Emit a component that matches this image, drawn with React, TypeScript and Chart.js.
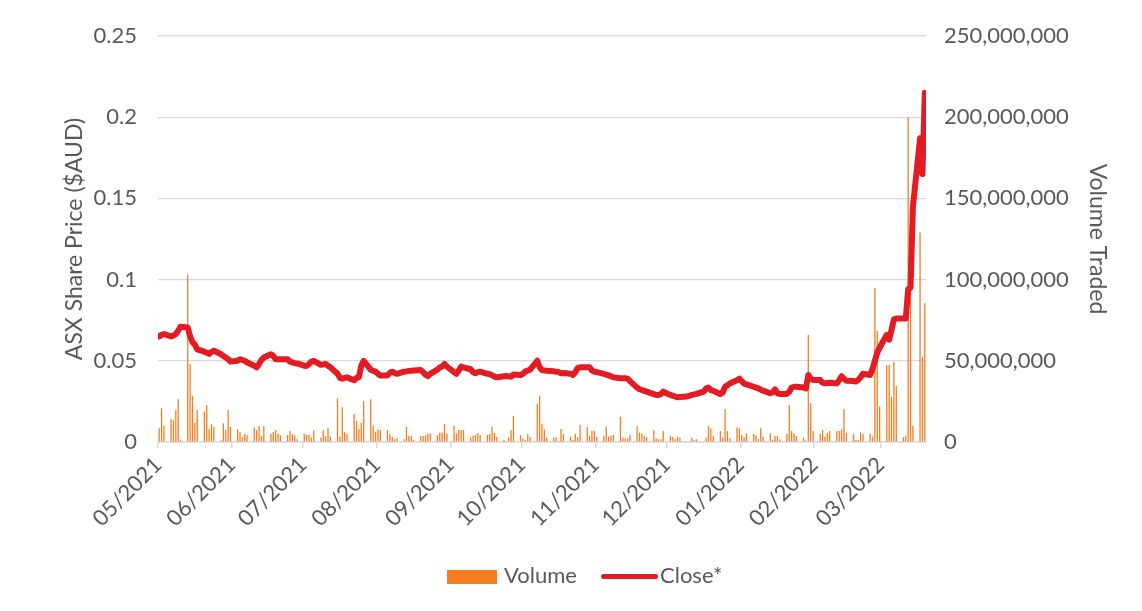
import React, { useEffect, useRef } from 'react';
import { Chart, registerables } from 'chart.js';

Chart.register(...registerables);

// ---- Categories: trading days (day of month) ----
const daysMay21 = [5, 6, 7, 10, 11, 12, 13, 14, 17, 18, 19, 20, 21, 24, 25, 26, 27, 28, 31];
const daysJun21 = [1, 2, 3, 4, 7, 8, 9, 10, 11, 14, 15, 16, 17, 18, 21, 22, 23, 24, 25, 28, 29, 30];
const daysJul21 = [1, 2, 5, 6, 7, 8, 9, 12, 13, 14, 15, 16, 19, 20, 21, 22, 23, 26, 27, 28, 29, 30];
const daysAug21 = [2, 3, 4, 5, 6, 9, 10, 11, 12, 13, 16, 17, 18, 19, 20, 23, 24, 25, 26, 27, 30, 31];
const daysSep21 = [1, 2, 3, 6, 7, 8, 9, 10, 13, 14, 15, 16, 17, 20, 21, 22, 23, 24, 27, 28, 29, 30];
const daysOct21 = [1, 4, 5, 6, 7, 8, 11, 12, 13, 14, 15, 18, 19, 20, 21, 22, 25, 26, 27, 28, 29];
const daysNov21 = [1, 2, 3, 4, 5, 8, 9, 10, 11, 12, 15, 16, 17, 18, 19, 22, 23, 24, 25, 26, 29, 30];
const daysDec21 = [1, 2, 3, 6, 7, 8, 9, 10, 13, 14, 15, 16, 17, 20, 21, 22, 23, 24, 27, 28, 29, 30, 31];
const daysJan22 = [3, 4, 5, 6, 7, 10, 11, 12, 13, 14, 17, 18, 19, 20, 21, 24, 25, 26, 27, 28, 31];
const daysFeb22 = [1, 2, 3, 4, 7, 8, 9, 10, 11, 14, 15, 16, 17, 18, 21, 22, 23, 24, 25, 28];
const daysMar22 = [1, 2, 3, 4, 7, 8, 9, 10, 11, 14, 15, 16, 17, 18, 21, 22, 23];

// ---- Close price ($AUD) ----
const closeMay21 = [0.065, 0.066, 0.0665, 0.065, 0.0655, 0.0665, 0.0685, 0.071, 0.0705, 0.065, 0.0615, 0.06, 0.057, 0.0556, 0.055, 0.0542, 0.0555, 0.0562, 0.054];
const closeJun21 = [0.053, 0.052, 0.051, 0.0495, 0.05, 0.051, 0.0505, 0.05, 0.049, 0.047, 0.046, 0.048, 0.0505, 0.052, 0.054, 0.053, 0.051, 0.051, 0.051, 0.051, 0.0495, 0.049];
const closeJul21 = [0.0485, 0.0484, 0.047, 0.0468, 0.048, 0.0495, 0.05, 0.0475, 0.0478, 0.048, 0.047, 0.046, 0.042, 0.0395, 0.039, 0.0395, 0.0398, 0.038, 0.0395, 0.04, 0.047, 0.0499];
const closeAug21 = [0.0445, 0.0438, 0.0433, 0.042, 0.041, 0.041, 0.0425, 0.0433, 0.0425, 0.042, 0.0433, 0.0435, 0.0438, 0.0439, 0.044, 0.0443, 0.043, 0.0415, 0.0406, 0.042, 0.0445, 0.046];
const closeSep21 = [0.0465, 0.048, 0.0465, 0.043, 0.042, 0.044, 0.0465, 0.046, 0.0448, 0.043, 0.0423, 0.043, 0.0433, 0.042, 0.0418, 0.041, 0.0403, 0.0398, 0.0405, 0.0406, 0.0404, 0.0402];
const closeOct21 = [0.0415, 0.0413, 0.042, 0.0435, 0.044, 0.0445, 0.05, 0.046, 0.0443, 0.0441, 0.0439, 0.0435, 0.0433, 0.043, 0.0423, 0.0425, 0.042, 0.0413, 0.043, 0.0455, 0.046];
const closeNov21 = [0.046, 0.046, 0.044, 0.0433, 0.043, 0.0419, 0.0415, 0.041, 0.0405, 0.0398, 0.0393, 0.0392, 0.0392, 0.039, 0.0375, 0.0335, 0.0325, 0.032, 0.0315, 0.031, 0.0295, 0.029];
const closeDec21 = [0.029, 0.0295, 0.031, 0.029, 0.0285, 0.028, 0.0275, 0.0277, 0.028, 0.0285, 0.029, 0.0293, 0.0296, 0.031, 0.033, 0.0335, 0.032, 0.0316, 0.0295, 0.0305, 0.034, 0.035, 0.036];
const closeJan22 = [0.038, 0.039, 0.0375, 0.036, 0.0355, 0.034, 0.0335, 0.033, 0.0322, 0.0316, 0.03, 0.0305, 0.0324, 0.03, 0.0296, 0.0296, 0.031, 0.0335, 0.034, 0.034, 0.0335];
const closeFeb22 = [0.033, 0.0413, 0.039, 0.0382, 0.0382, 0.0365, 0.0361, 0.0363, 0.0365, 0.0361, 0.038, 0.0405, 0.039, 0.0377, 0.0375, 0.0372, 0.0382, 0.04, 0.042, 0.0413];
const closeMar22 = [0.045, 0.05, 0.055, 0.058, 0.066, 0.063, 0.069, 0.0755, 0.076, 0.076, 0.076, 0.094, 0.095, 0.145, 0.187, 0.165, 0.215];

// ---- Volume traded (millions of shares) ----
const volMay21 = [8.4, 20.7, 9.9, 14, 13.5, 19.7, 26.3, 1.5, 103, 48, 28.3, 11.9, 19.7, 18.7, 22.8, 8, 11, 9.4, 1];
const volJun21 = [11.5, 7.4, 19.7, 9.4, 7.8, 6, 2.9, 4.9, 4.3, 9, 7.4, 9.9, 3.7, 9.9, 4.9, 6.3, 7.4, 5.3, 4, 4.3, 6.8, 4.9];
const volJul21 = [4.1, 1.7, 5.3, 4.5, 4.3, 2.7, 7.2, 2.7, 7.4, 3.7, 8.6, 3.3, 26.9, 3.3, 21.4, 6, 4.9, 17.2, 13.1, 7.8, 11.9, 25.2];
const volAug21 = [26.3, 9.9, 6.3, 7.8, 7.4, 7.4, 4.9, 3.3, 1.7, 2.3, 1.7, 9.4, 3.9, 3.7, 1.2, 3.7, 3.7, 4.1, 5.3, 5.3, 4.3, 5.7];
const volSep21 = [5.7, 11.1, 5.3, 10, 5.3, 7.4, 7.4, 7.4, 2.9, 3.9, 4.3, 5.5, 4.3, 4.3, 4.9, 9.4, 5.7, 3.3, 1.2, 0.6, 2.9, 7.4];
const volOct21 = [16, 4.3, 2.3, 1.2, 4.7, 3.3, 23.4, 28.3, 10.9, 7.8, 2.7, 2.7, 2.7, 0.6, 8, 4.9, 3.3, 1.2, 4.9, 2.9, 10.5];
const volNov21 = [9.4, 3.7, 7, 7, 3.3, 3.7, 9.4, 3.3, 3.7, 4.3, 15.6, 2.7, 2.3, 2.3, 4.3, 10, 5.7, 5.3, 3.7, 2.9, 7.4, 2.3];
const volDec21 = [1.7, 1.7, 6.8, 3.9, 3.3, 1.7, 3.3, 2.7, 0.4, 0.5, 2.7, 1.2, 1.7, 0.5, 2.7, 9.9, 8.4, 3.7, 6.8, 2.9, 20.1, 6.8, 2.3];
const volJan22 = [9, 8.4, 4.3, 2.9, 5.3, 4.9, 4.3, 1.7, 8.8, 3.3, 5.3, 1.2, 3.7, 3.7, 1.7, 5.3, 22.8, 6.8, 5.3, 3.7, 2.7];
const volFeb22 = [1, 65.9, 23.8, 6.8, 4.9, 7.4, 3.3, 5.7, 6.8, 6.8, 6.8, 7.8, 20.3, 5.7, 4.9, 1.2, 1.2, 6, 4.7, 5.3];
const volMar22 = [3.3, 94.6, 68.5, 21.9, 47.4, 47.4, 27.9, 49.4, 34.5, 3, 4, 200, 93, 10, 129, 52.5, 85.5];

// ---- Axis tick labels ----
const xTickLabels = ['05/2021', '06/2021', '07/2021', '08/2021', '09/2021', '10/2021', '11/2021', '12/2021', '01/2022', '02/2022', '03/2022'];
const yTickValues = [0, 0.05, 0.1, 0.15, 0.2, 0.25];
const y1TickValues = [0, 50000000, 100000000, 150000000, 200000000, 250000000];

const months = [
  { y: 2021, m: 4, days: daysMay21, close: closeMay21, vol: volMay21 },
  { y: 2021, m: 5, days: daysJun21, close: closeJun21, vol: volJun21 },
  { y: 2021, m: 6, days: daysJul21, close: closeJul21, vol: volJul21 },
  { y: 2021, m: 7, days: daysAug21, close: closeAug21, vol: volAug21 },
  { y: 2021, m: 8, days: daysSep21, close: closeSep21, vol: volSep21 },
  { y: 2021, m: 9, days: daysOct21, close: closeOct21, vol: volOct21 },
  { y: 2021, m: 10, days: daysNov21, close: closeNov21, vol: volNov21 },
  { y: 2021, m: 11, days: daysDec21, close: closeDec21, vol: volDec21 },
  { y: 2022, m: 0, days: daysJan22, close: closeJan22, vol: volJan22 },
  { y: 2022, m: 1, days: daysFeb22, close: closeFeb22, vol: volFeb22 },
  { y: 2022, m: 2, days: daysMar22, close: closeMar22, vol: volMar22 },
];

const START = Date.UTC(2021, 4, 5);
const DAY = 86400000;
const dayIndex = (y: number, m: number, d: number) => (Date.UTC(y, m, d) - START) / DAY;

const closePoints: { x: number; y: number }[] = [];
const volPoints: { x: number; y: number }[] = [];
months.forEach((mo) => {
  mo.days.forEach((d, i) => {
    const x = dayIndex(mo.y, mo.m, d) + 0.5;
    closePoints.push({ x, y: mo.close[i] });
    volPoints.push({ x, y: mo.vol[i] * 1e6 });
  });
});

const tickMonths: [number, number][] = [
  [2021, 4], [2021, 5], [2021, 6], [2021, 7], [2021, 8], [2021, 9], [2021, 10], [2021, 11], [2022, 0], [2022, 1], [2022, 2],
];
const tickValues = tickMonths.map(([y, m]) => dayIndex(y, m, 5));
const X_MAX = dayIndex(2022, 2, 24);

const FONT = 'Lato, "Open Sans", sans-serif';
const TEXT = '#595959';
const GRID = '#d9d9d9';
const ORANGE = '#F47D20';
const RED = '#E31C23';

export default function App() {
  const ref = useRef<HTMLCanvasElement | null>(null);

  useEffect(() => {
    if (!ref.current) return;
    const chart = new Chart(ref.current, {
      type: 'line',
      data: {
        datasets: [
          {
            type: 'line',
            label: 'Close*',
            data: closePoints,
            yAxisID: 'y',
            borderColor: RED,
            backgroundColor: RED,
            borderWidth: 6,
            pointRadius: 0,
            tension: 0,
            borderCapStyle: 'round',
            borderJoinStyle: 'round',
            order: 0,
          } as any,
          {
            type: 'bar',
            label: 'Volume',
            data: volPoints,
            yAxisID: 'y1',
            backgroundColor: ORANGE,
            borderWidth: 0,
            barThickness: 1.3,
            inflateAmount: 0,
            order: 1,
          } as any,
        ],
      },
      options: {
        responsive: false,
        animation: false,
        events: [],
        layout: { padding: { top: 36, left: 0, right: 0, bottom: 0 } },
        plugins: { legend: { display: false }, tooltip: { enabled: false } },
        scales: {
          x: {
            type: 'linear',
            min: 0,
            max: X_MAX,
            offset: false,
            afterBuildTicks: (scale: any) => {
              scale.ticks = tickValues.map((v) => ({ value: v }));
            },
            afterFit: (scale: any) => {
              scale.height = 611 - 442;
            },
            ticks: {
              autoSkip: false,
              minRotation: 45,
              maxRotation: 45,
              padding: 4,
              color: TEXT,
              font: { family: FONT, size: 22 },
              callback: (v: any) => {
                const idx = tickValues.indexOf(Number(v));
                return idx >= 0 ? xTickLabels[idx] : '';
              },
            },
            grid: {
              offset: false,
              drawOnChartArea: false,
              drawTicks: true,
              tickLength: 6,
              color: GRID,
              lineWidth: 1.5,
            },
            border: { display: true, color: GRID, width: 1.5 },
          },
          y: {
            type: 'linear',
            position: 'left',
            min: 0,
            max: 0.25,
            afterBuildTicks: (scale: any) => {
              scale.ticks = yTickValues.map((v) => ({ value: v }));
            },
            afterFit: (scale: any) => {
              scale.width = 158;
            },
            ticks: {
              padding: 21,
              color: TEXT,
              font: { family: FONT, size: 22 },
              callback: (v: any) => String(parseFloat(Number(v).toFixed(2))),
            },
            grid: { color: GRID, lineWidth: 1.2, drawTicks: false },
            border: { display: false },
            title: {
              display: true,
              text: 'ASX Share Price ($AUD)',
              color: TEXT,
              font: { family: FONT, size: 23 },
              padding: { top: 61, bottom: 0 },
            },
          },
          y1: {
            type: 'linear',
            position: 'right',
            min: 0,
            max: 250000000,
            afterBuildTicks: (scale: any) => {
              scale.ticks = y1TickValues.map((v) => ({ value: v }));
            },
            afterFit: (scale: any) => {
              scale.width = 1142 - 926;
            },
            ticks: {
              padding: 18,
              color: TEXT,
              font: { family: FONT, size: 22 },
              callback: (v: any) => Number(v).toLocaleString('en-US'),
            },
            grid: { drawOnChartArea: false, drawTicks: false },
            border: { display: false },
            title: {
              display: true,
              text: 'Volume Traded',
              color: TEXT,
              font: { family: FONT, size: 23 },
              padding: { top: 31, bottom: 0 },
            },
          },
        },
      },
    } as any);
    return () => chart.destroy();
  }, []);

  return (
    <div style={{ position: 'fixed', left: 0, top: 0, width: 1142, height: 611, background: '#fff', overflow: 'hidden' }}>
      <canvas ref={ref} width={1142} height={611} style={{ display: 'block', width: 1142, height: 611 }} />
      <div style={{ position: 'absolute', left: 447, top: 570, width: 50, height: 14, background: ORANGE }} />
      <div style={{ position: 'absolute', left: 504, top: 562, fontFamily: FONT, fontSize: 22, color: TEXT, lineHeight: '26px' }}>Volume</div>
      <div style={{ position: 'absolute', left: 601, top: 574, width: 57, height: 5, borderRadius: 3, background: RED }} />
      <div style={{ position: 'absolute', left: 660, top: 562, fontFamily: FONT, fontSize: 22, color: TEXT, lineHeight: '26px' }}>Close*</div>
    </div>
  );
}
